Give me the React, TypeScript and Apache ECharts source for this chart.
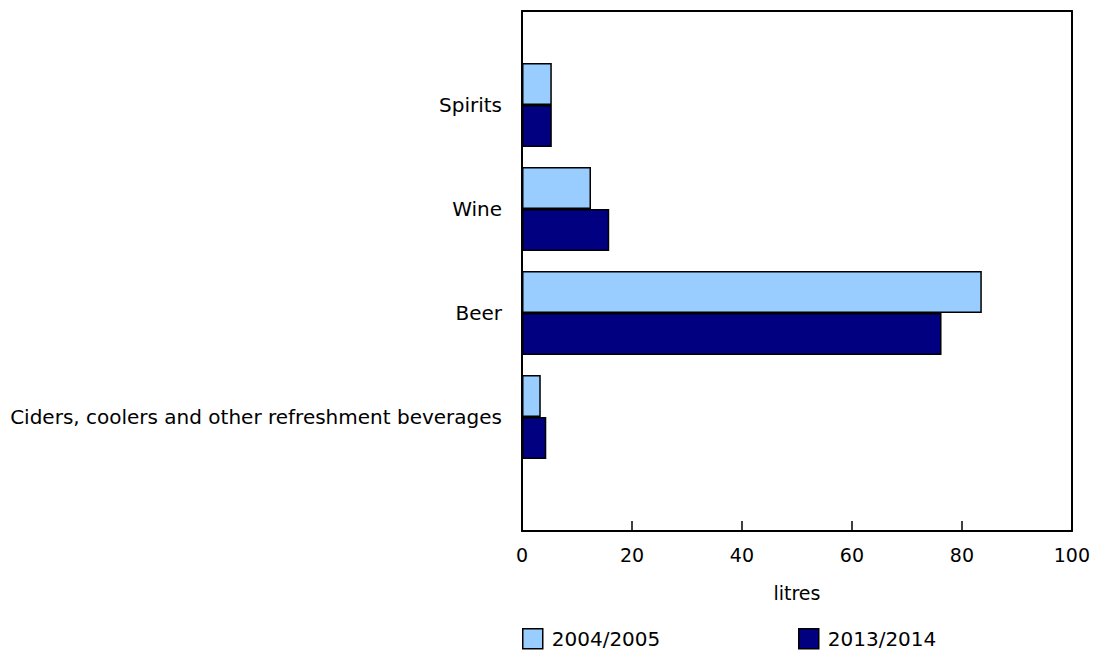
import React, { useEffect, useRef } from "react";
import * as echarts from "echarts";

const categories = [
  "Spirits",
  "Wine",
  "Beer",
  "Ciders, coolers and other refreshment beverages",
];
const seriesNames = ["2004/2005", "2013/2014"];
const values2004 = [5.4, 12.5, 83.3, 3.4];
const values2013 = [5.4, 15.8, 76.0, 4.4];
const xTicks = [0, 20, 40, 60, 80, 100];

const FONT = "DejaVu Sans, Verdana, sans-serif";
const LIGHT = "#99CCFF";
const DARK = "#000080";

export default function App() {
  const ref = useRef<HTMLDivElement>(null);
  useEffect(() => {
    if (!ref.current) return;
    const chart = echarts.init(ref.current, null, { renderer: "svg" });
    const legendCommon = {
      top: 628,
      icon: "rect",
      itemWidth: 20,
      itemHeight: 20,
      itemGap: 0,
      textStyle: { color: "#000", fontSize: 20, fontFamily: FONT, padding: [0, 0, 0, 4] },
      itemStyle: { borderColor: "#000", borderWidth: 1.5 },
      padding: 0,
    };
    chart.setOption({
      animation: false,
      backgroundColor: "#ffffff",
      textStyle: { fontFamily: FONT },
      grid: [
        { left: 522, top: 11, width: 552, height: 520, show: false, containLabel: false },
        { left: 522, top: 53, width: 552, height: 416, show: false, containLabel: false },
      ],
      xAxis: [
        {
          type: "value",
          gridIndex: 0,
          min: xTicks[0],
          max: xTicks[xTicks.length - 1],
          interval: 20,
          axisLine: { show: true, lineStyle: { color: "#000", width: 2 } },
          axisTick: { show: true, inside: true, length: 10, lineStyle: { color: "#000", width: 1.5 } },
          axisLabel: { color: "#000", fontSize: 19, fontFamily: FONT, margin: 14 },
          splitLine: { show: false },
          name: "litres",
          nameLocation: "middle",
          nameGap: 52,
          nameTextStyle: { color: "#000", fontSize: 19, fontFamily: FONT },
        },
        {
          type: "value",
          gridIndex: 1,
          min: 0,
          max: 100,
          show: false,
        },
        {
          type: "value",
          gridIndex: 0,
          min: 0,
          max: 100,
          position: "top",
          axisLine: { show: true, onZero: false, lineStyle: { color: "#000", width: 2 } },
          axisTick: { show: false },
          axisLabel: { show: false },
          splitLine: { show: false },
        },
      ],
      yAxis: [
        {
          type: "value",
          gridIndex: 0,
          min: 0,
          max: 1,
          axisLine: { show: true, lineStyle: { color: "#000", width: 2 } },
          axisTick: { show: false },
          axisLabel: { show: false },
          splitLine: { show: false },
        },
        {
          type: "category",
          gridIndex: 1,
          data: categories,
          inverse: true,
          axisLine: { show: false },
          axisTick: { show: false },
          axisLabel: { color: "#000", fontSize: 20, fontFamily: FONT, margin: 20 },
        },
        {
          type: "value",
          gridIndex: 0,
          min: 0,
          max: 1,
          position: "right",
          axisLine: { show: true, onZero: false, lineStyle: { color: "#000", width: 2 } },
          axisTick: { show: false },
          axisLabel: { show: false },
          splitLine: { show: false },
        },
      ],
      legend: [
        { ...legendCommon, data: [seriesNames[0]], left: 522 },
        { ...legendCommon, data: [seriesNames[1]], left: 798 },
      ],
      series: [
        {
          name: seriesNames[0],
          type: "bar",
          xAxisIndex: 1,
          yAxisIndex: 1,
          data: values2004,
          barGap: "0%",
          barCategoryGap: "19%",
          itemStyle: { color: LIGHT, borderColor: "#000", borderWidth: 1.5 },
        },
        {
          name: seriesNames[1],
          type: "bar",
          xAxisIndex: 1,
          yAxisIndex: 1,
          data: values2013,
          barGap: "0%",
          barCategoryGap: "19%",
          itemStyle: { color: DARK, borderColor: "#000", borderWidth: 1.5 },
        },
      ],
    });
    return () => chart.dispose();
  }, []);
  return (
    <div
      ref={ref}
      style={{ position: "fixed", left: 0, top: 0, width: 1093, height: 652 }}
    />
  );
}
